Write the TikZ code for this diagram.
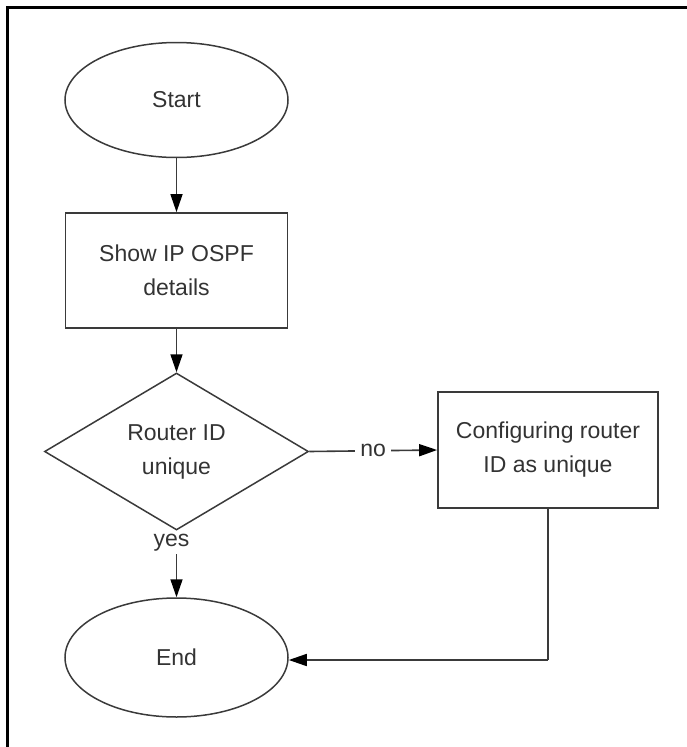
\documentclass[tikz,border=0pt]{standalone}
\usepackage{fontspec}
\setmainfont{Liberation Sans}
\usetikzlibrary{shapes.geometric,arrows.meta}
\definecolor{ln}{HTML}{3A3A3A}
\definecolor{tx}{HTML}{333333}
\begin{document}
\begin{tikzpicture}[x=1pt,y=-1pt,
  every node/.style={font=\fontsize{23}{34}\selectfont, text=tx, align=center},
  flowline/.style={draw=ln, line width=1.6pt},
  arr/.style={flowline, -{Triangle[length=18pt,width=12pt,color=black]}},
  term/.style={ellipse, draw=ln, line width=1.5pt, minimum width=223pt, inner sep=0pt},
  procbox/.style={rectangle, draw=ln, line width=1.8pt, inner sep=0pt},
  decis/.style={diamond, draw=ln, line width=1.5pt, minimum width=264pt, minimum height=157pt, inner sep=0pt},
  lbl/.style={fill=white, inner xsep=5pt, inner ysep=1pt}
]
\useasboundingbox (0,0) rectangle (687,747);
% frame
\draw[line width=3pt, black] (6,7.5) -- (687,7.5);
\draw[line width=3pt, black] (7.5,6) -- (7.5,747);

\node[term, minimum height=115pt] (start) at (176.5,100) {Start};
\node[procbox, minimum width=222pt, minimum height=115pt] (show) at (176.5,270.5) {Show IP OSPF\\details};
\node[decis] (dec) at (176.5,451.5) {Router ID\\unique};
\node[procbox, minimum width=220pt, minimum height=116pt] (conf) at (548,450) {Configuring router\\ID as unique};
\node[term, minimum height=119pt] (end) at (176.5,657.5) {End};
\node[anchor=north, inner sep=1pt] (yes) at ([xshift=-5pt,yshift=-2pt]dec.south) {yes};
\coordinate (corner) at (548,660);

\draw[arr] (start) -- (show);
\draw[arr] (show) -- (dec);
\draw[arr] (dec.east) -- node[lbl, pos=0.5] (no) {no} (conf.west);
\draw[arr] ([yshift=-2pt]end.north |- yes.south) -- (end.north);
\draw[flowline] (conf.south) -- (corner);
\draw[arr] (corner) -- (end.east |- corner);
\end{tikzpicture}
\end{document}
